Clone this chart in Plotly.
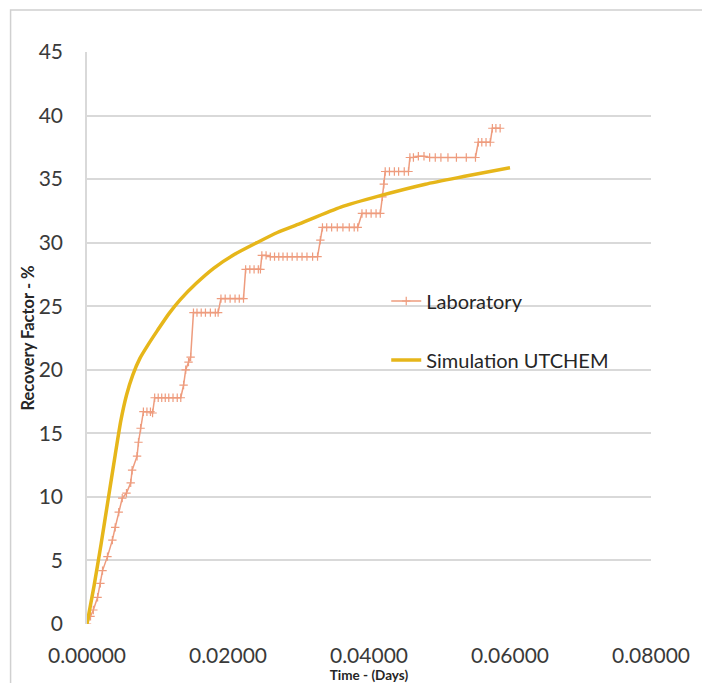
import plotly.graph_objects as go

# Laboratory data (time in days, recovery factor %)
lab_time = [0, 0.0005, 0.0009, 0.0015, 0.0019, 0.0022, 0.0029, 0.0036, 0.0040, 0.0045,
            0.0050, 0.0056, 0.0062, 0.0064, 0.0071, 0.0073, 0.0076, 0.0080, 0.0085, 0.0090,
            0.0093, 0.0096, 0.0101, 0.0106, 0.0111, 0.0116, 0.0122, 0.0128, 0.0133, 0.0137,
            0.0140, 0.0144, 0.0147, 0.0151, 0.0156, 0.0162, 0.0168, 0.0175, 0.0182, 0.0186,
            0.0190, 0.0196, 0.0203, 0.0210, 0.0216, 0.0222, 0.0225, 0.0231, 0.0237, 0.0243,
            0.0246, 0.0248, 0.0254, 0.0260, 0.0266, 0.0272, 0.0278, 0.0284, 0.0291, 0.0298,
            0.0305, 0.0312, 0.0320, 0.0327, 0.0331, 0.0334, 0.0340, 0.0347, 0.0355, 0.0363,
            0.0372, 0.0379, 0.0384, 0.0390, 0.0396, 0.0403, 0.0410, 0.0416, 0.0419, 0.0421,
            0.0423, 0.0429, 0.0436, 0.0442, 0.0450, 0.0456, 0.0458, 0.0463, 0.0470, 0.0478,
            0.0486, 0.0494, 0.0502, 0.0512, 0.0524, 0.0538, 0.0551, 0.0555, 0.0560, 0.0566,
            0.0572, 0.0575, 0.0580, 0.0586]
lab_rf = [0, 0.6, 1.1, 2.1, 3.2, 4.2, 5.3, 6.6, 7.6, 8.8,
          9.9, 10.3, 11.1, 12.1, 13.2, 14.3, 15.4, 16.7, 16.7, 16.7,
          16.6, 17.8, 17.8, 17.8, 17.8, 17.8, 17.8, 17.8, 17.8, 18.8,
          20.0, 20.6, 21.0, 24.5, 24.5, 24.5, 24.5, 24.5, 24.5, 24.5,
          25.6, 25.6, 25.6, 25.6, 25.6, 25.6, 27.9, 27.9, 27.9, 27.9,
          27.9, 29.0, 29.0, 28.9, 28.9, 28.9, 28.9, 28.9, 28.9, 28.9,
          28.9, 28.9, 28.9, 28.9, 30.2, 31.2, 31.2, 31.2, 31.2, 31.2,
          31.2, 31.2, 31.2, 32.3, 32.3, 32.3, 32.3, 32.3, 33.6, 34.6,
          35.6, 35.6, 35.6, 35.6, 35.6, 35.6, 36.7, 36.7, 36.8, 36.8,
          36.7, 36.7, 36.7, 36.7, 36.7, 36.7, 36.7, 37.9, 37.9, 37.9,
          37.9, 39.0, 39.0, 39.0]

# Simulation UTCHEM curve
sim_time = [0, 0.0010, 0.0020, 0.0030, 0.0040, 0.0048, 0.0056, 0.0065, 0.0075, 0.0087,
            0.0100, 0.0116, 0.0132, 0.0155, 0.0180, 0.0210, 0.0241, 0.0270, 0.0302, 0.0360,
            0.0416, 0.0480, 0.0534, 0.0600]
sim_rf = [0, 3.0, 6.3, 9.8, 13.3, 16.0, 18.0, 19.6, 20.9, 22.0,
          23.1, 24.4, 25.5, 26.8, 28.0, 29.1, 30.0, 30.8, 31.5, 32.8,
          33.7, 34.6, 35.2, 35.9]

y_ticks = [0, 5, 10, 15, 20, 25, 30, 35, 40, 45]
x_ticks = [0.0, 0.02, 0.04, 0.06, 0.08]
x_tick_labels = ["0.00000", "0.02000", "0.04000", "0.06000", "0.08000"]

FONT = "Lato, 'Open Sans', sans-serif"
TXT = "#3a3a3a"

fig = go.Figure()
fig.add_trace(go.Scatter(
    x=lab_time, y=lab_rf, name="Laboratory", mode="lines+markers",
    line=dict(color="#EE9C7E", width=1.5),
    marker=dict(symbol="cross-thin-open", size=6, line=dict(color="#E58A6A", width=1.2)),
    legend="legend",
))
fig.add_trace(go.Scatter(
    x=sim_time, y=sim_rf, name="Simulation UTCHEM", mode="lines",
    line=dict(color="#E6B61A", width=3.5, shape="spline", smoothing=0.6),
    legend="legend2",
))

# page body adds an 8px offset; work in page pixels and shift
OFF = 8
W, H = 710 - OFF, 683 - OFF
L, R, T, B = 86.5 - OFF, 710 - 651, 52 - OFF, 683 - 624
pw, ph = W - L - R, H - T - B

def px(xp):
    return (xp - OFF - L) / pw

def py(yp):
    return (H - B - (yp - OFF)) / ph

fig.update_layout(
    width=W, height=H,
    margin=dict(l=L, r=R, t=T, b=B, autoexpand=False),
    paper_bgcolor="white", plot_bgcolor="white",
    font=dict(family=FONT, color=TXT, size=21),
    showlegend=True,
    legend=dict(x=px(386), y=py(301), xanchor="left", yanchor="middle",
                bgcolor="rgba(0,0,0,0)", font=dict(size=20, color="#262626", family=FONT)),
    legend2=dict(x=px(386), y=py(360), xanchor="left", yanchor="middle",
                 bgcolor="rgba(0,0,0,0)", font=dict(size=20, color="#262626", family=FONT)),
    xaxis=dict(
        range=[0, 0.08], tickvals=x_ticks, ticktext=x_tick_labels,
        showgrid=False, zeroline=False, showline=False, ticks="",
        ticklabelstandoff=17, automargin=False,
        tickfont=dict(size=21, color=TXT),
        title=dict(text="<b>Time - (Days)</b>", font=dict(size=13.5, color="#262626"), standoff=9),
    ),
    yaxis=dict(
        range=[0, 45], tickvals=y_ticks,
        showgrid=True, gridcolor="#D9D9D9", gridwidth=1.5,
        zeroline=False, showline=True, linecolor="#D9D9D9", linewidth=1.5,
        ticks="", ticklabelstandoff=18, automargin=False,
        tickfont=dict(size=21, color=TXT),
        title=dict(text="<b>Recovery Factor - %</b>", font=dict(size=16.5, color="#262626"), standoff=0),
    ),
    shapes=[dict(type="rect", xref="paper", yref="paper",
                 x0=px(10), x1=px(720), y0=py(700), y1=py(10),
                 line=dict(color="#D0D0D0", width=1.5), fillcolor="rgba(0,0,0,0)", layer="below")],
)

fig.write_html("out.html")
